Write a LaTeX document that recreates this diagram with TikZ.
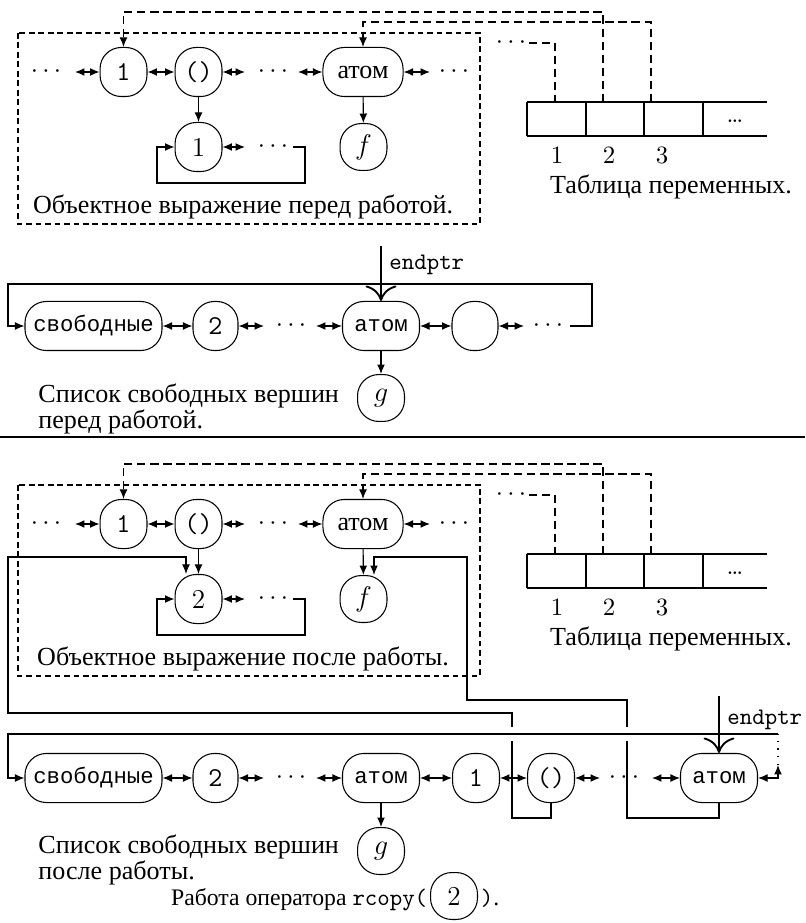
\documentclass[tikz,border=0pt]{standalone}
\usepackage{fontspec}
\newfontfamily\rufont{Liberation Serif}
\newfontfamily\rutt{Liberation Mono}
\usetikzlibrary{arrows.meta}
\tikzset{
  >={Latex[length=4pt,width=3.3pt]},
  ln/.style={line width=0.45pt},
  dbl/.style={ln,<->},
  sgl/.style={ln,->},
  nd/.style={draw, ln, rounded corners=9pt, minimum width=19.8pt, minimum height=20.7pt, inner sep=0pt},
  rnd/.style={nd, minimum height=19.8pt},
  dt/.style={inner sep=0pt},
  tlink/.style={ln, dash pattern=on 3.5pt off 2pt},
  fbox/.style={ln, dash pattern=on 2.4pt off 1.6pt},
  endp/.style={line width=0.8pt, -{Computer Modern Rightarrow[length=6.5pt,width=13pt]}},
  ru/.style={font=\rufont\fontsize{11}{10}\selectfont},
  rucap/.style={font=\rufont\fontsize{10}{10}\selectfont},
  rut/.style={font=\rutt\fontsize{9.4}{11}\selectfont},
  lt/.style={font=\ttfamily\fontsize{10}{12}\selectfont},
  ltn/.style={font=\ttfamily\fontsize{11.5}{12}\selectfont},
  rmn/.style={font=\fontsize{11.5}{12}\selectfont},
}
\begin{document}
\begin{tikzpicture}[x=0.4219pt,y=-0.4219pt,font=\fontsize{10.5}{12}\selectfont]
\useasboundingbox (0,0) rectangle (805,923);

%% ===== object expression before =====
\coordinate (hA1) at (0,12);
\coordinate (hA2) at (0,22);
\node[dt] (a0) at (46,72) {$\cdots$};
\node[nd,ltn] (a1) at (123.5,72) {1};
\node[nd,ltn] (a2) at (198.5,72) {()};
\node[dt] (a3) at (273,72) {$\cdots$};
\node[nd,ru,minimum width=33.8pt] (aA) at (363,72) {атом};
\node[dt] (a4) at (454,72) {$\cdots$};
\coordinate (a0r) at (75,72);
\coordinate (a2r) at (245,72);
\coordinate (a3r) at (298,72);
\coordinate (aAr) at (430,72);
\draw[dbl] (a0r) -- (a1);
\draw[dbl] (a1) -- (a2);
\draw[dbl] (a2) -- (a2r);
\draw[dbl] (a3r) -- (aA);
\draw[dbl] (aA) -- (aAr);
\node[nd,rmn] (ac) at (198.5,147) {1};
\node[dt] (ac3) at (273,147) {$\cdots$};
\coordinate (acl) at (245,147);
\coordinate (acr) at (293,147);
\draw[sgl] (a2) -- (ac);
\draw[dbl] (ac) -- (acl);
\draw[sgl] (acr) -- ++(12,0) -- ++(0,36) -- ++(-148,0) -- ++(0,-36) -- (ac);
\node[rnd,rmn] (af) at (363.5,147) {$f$};
\draw[sgl] (aA) -- (af);
\node[ru] (acap) at (243,207) {Объектное выражение перед работой.};
\draw[fbox] (18,33) rectangle (480,224);

%% variable table before
\draw[ln] (527,102) -- (767,102) (527,136) -- (767,136)
  (527,102) -- (527,136) (586,102) -- (586,136) (644,102) -- (644,136) (703,102) -- (703,136);
\coordinate (ta1) at (555,102);
\coordinate (ta2) at (603,102);
\coordinate (ta3) at (651,102);
\node (tad) at (735,121) {\dots};
\node (tn1) at (557,155) {1};
\node (tn2) at (609,155) {2};
\node (tn3) at (662,155) {3};
\node[ru] (tcap) at (671,187) {Таблица переменных.};
\draw[tlink,->] (ta2) |- (a1 |- hA1) -- (a1);
\draw[tlink,->] (ta3) |- (aA |- hA2) -- (aA);
\node[dt] (ad) at (511,43) {$\cdots$};
\coordinate (adr) at (529,43);
\draw[tlink] (adr) -| (ta1);

%% ===== free list before =====
\node[nd,rut,minimum width=57.8pt] (fs) at (93.5,326) {свободные};
\node[nd,ltn,minimum width=19pt] (f2) at (215.5,326) {2};
\node[dt] (fd1) at (291,326) {$\cdots$};
\node[nd,rut,minimum width=32.5pt] (fa) at (381,326) {атом};
\node[nd,minimum width=19.4pt] (fe) at (475,326) {};
\node[dt] (fd2) at (548,326) {$\cdots$};
\coordinate (f2r) at (264,326);
\coordinate (fal) at (316,326);
\coordinate (fer) at (524,326);
\coordinate (fq) at (570,326);
\coordinate (fc) at (8,326);
\draw[dbl] (fs) -- (f2);
\draw[dbl] (f2) -- (f2r);
\draw[dbl] (fal) -- (fa);
\draw[dbl] (fa) -- (fe);
\draw[dbl] (fe) -- (fer);
\draw[sgl] (fq) -- ++(22,0) -- ++(0,-42) -| (fc) -- (fs);
\coordinate (fpt) at (381,246);
\draw[endp] (fpt) -- (fa);
\node[lt,anchor=base west,inner sep=0pt] (fpl) at (389,270) {endptr};
\node[rnd,rmn] (fg) at (381,398) {$g$};
\draw[sgl] (fa) -- (fg);
\node[ru,anchor=west,align=left,inner sep=0pt] (fcap) at (38,409) {Список свободных вершин\\перед работой.};

%% separator
\draw[line width=0.7pt] (0,437) -- (805,437);

%% ===== object expression after =====
\coordinate (hB1) at (0,464);
\coordinate (hB2) at (0,474);
\node[dt] (b0) at (46,524) {$\cdots$};
\node[nd,ltn] (b1) at (123.5,524) {1};
\node[nd,ltn] (b2) at (198.5,524) {()};
\node[dt] (b3) at (273,524) {$\cdots$};
\node[nd,ru,minimum width=33.8pt] (bA) at (363,524) {атом};
\node[dt] (b4) at (454,524) {$\cdots$};
\coordinate (b0r) at (75,524);
\coordinate (b2r) at (245,524);
\coordinate (b3r) at (298,524);
\coordinate (bAr) at (430,524);
\draw[dbl] (b0r) -- (b1);
\draw[dbl] (b1) -- (b2);
\draw[dbl] (b2) -- (b2r);
\draw[dbl] (b3r) -- (bA);
\draw[dbl] (bA) -- (bAr);
\node[nd,rmn] (bc) at (198.5,599) {2};
\node[dt] (bc3) at (273,599) {$\cdots$};
\coordinate (bcl) at (245,599);
\coordinate (bcr) at (293,599);
\draw[sgl] (b2) -- (bc);
\draw[dbl] (bc) -- (bcl);
\draw[sgl] (bcr) -- ++(12,0) -- ++(0,36) -- ++(-148,0) -- ++(0,-36) -- (bc);
\node[rnd,rmn] (bf) at (363.5,599) {$f$};
\draw[sgl] (bA) -- (bf);
\node[ru] (bcap) at (243,659) {Объектное выражение после работы.};
\draw[fbox] (18,485) rectangle (480,676);

%% variable table after
\draw[ln] (527,554) -- (767,554) (527,588) -- (767,588)
  (527,554) -- (527,588) (586,554) -- (586,588) (644,554) -- (644,588) (703,554) -- (703,588);
\coordinate (tb1) at (555,554);
\coordinate (tb2) at (603,554);
\coordinate (tb3) at (651,554);
\node (tbd) at (735,573) {\dots};
\node (tm1) at (557,607) {1};
\node (tm2) at (609,607) {2};
\node (tm3) at (662,607) {3};
\node[ru] (tbcap) at (671,639) {Таблица переменных.};
\draw[tlink,->] (tb2) |- (b1 |- hB1) -- (b1);
\draw[tlink,->] (tb3) |- (bA |- hB2) -- (bA);
\node[dt] (bd) at (511,495) {$\cdots$};
\coordinate (bdr) at (529,495);
\draw[tlink] (bdr) -| (tb1);

%% ===== free list after =====
\node[nd,rut,minimum width=57.8pt] (gs) at (93.5,778) {свободные};
\node[nd,ltn,minimum width=19pt] (g2) at (215.5,778) {2};
\node[dt] (gd1) at (291,778) {$\cdots$};
\node[nd,rut,minimum width=32.5pt] (ga) at (381,778) {атом};
\node[nd,ltn] (g1) at (476,778) {1};
\node[nd,ltn] (gp) at (551,778) {()};
\node[dt] (gd2) at (624,778) {$\cdots$};
\node[nd,rut,minimum width=32.5pt] (gA) at (719,778) {атом};
\coordinate (g2r) at (264,778);
\coordinate (gal) at (316,778);
\coordinate (gpr) at (600,778);
\coordinate (gAl) at (652,778);
\coordinate (gc) at (8,778);
\coordinate (gq) at (778,734);
\coordinate (gt) at (778,765);
\draw[dbl] (gs) -- (g2);
\draw[dbl] (g2) -- (g2r);
\draw[dbl] (gal) -- (ga);
\draw[dbl] (ga) -- (g1);
\draw[dbl] (g1) -- (gp);
\draw[dbl] (gp) -- (gpr);
\draw[dbl] (gAl) -- (gA);
\draw[dbl] (gA.east) -| (gt);
\node[rnd,rmn] (gg) at (381,851) {$g$};
\draw[sgl] (ga) -- (gg);

%% copied pointers of the new nodes
\coordinate (pA1) at (512,818);
\coordinate (pA2) at (8,713);
\coordinate (pA3) at (186,557);
\draw[sgl] (gp.south) |- (pA1) |- (pA2) |- (pA3) -- (pA3 |- bc.north);
\coordinate (pB1) at (627,818);
\coordinate (pB2) at (467,700);
\coordinate (pB3) at (374,557);
\draw[sgl] (gA.south) |- (pB1) |- (pB2) |- (pB3) -- (pB3 |- bf.north);

%% ring closure, crossing over the pointers
\draw[draw=white,line width=6pt] (gq) -- (gc |- gq);
\draw[sgl] (gq) -| (gc) -- (gs);
\draw[line width=0.6pt, dash pattern=on 0.6pt off 2.6pt] (gt) -- (gq);
\coordinate (gpt) at (719,696);
\draw[endp] (gpt) -- (gA);
\node[lt,anchor=base west,inner sep=0pt] (gpl) at (727,724) {endptr};
\node[ru,anchor=west,align=left,inner sep=0pt] (gcap) at (38,860) {Список свободных вершин\\после работы.};

%% caption
\node[rnd,rmn] (cb) at (454,896) {2};
\node[rucap,anchor=base east,inner sep=0pt] (cl) at ([xshift=-1pt]cb.base west) {Работа оператора {\ttfamily\fontsize{10}{12}\selectfont rcopy(}};
\node[rucap,anchor=base west,inner sep=0pt] (cr) at ([xshift=1pt]cb.base east) {{\ttfamily\fontsize{10}{12}\selectfont )}.};
\end{tikzpicture}
\end{document}
